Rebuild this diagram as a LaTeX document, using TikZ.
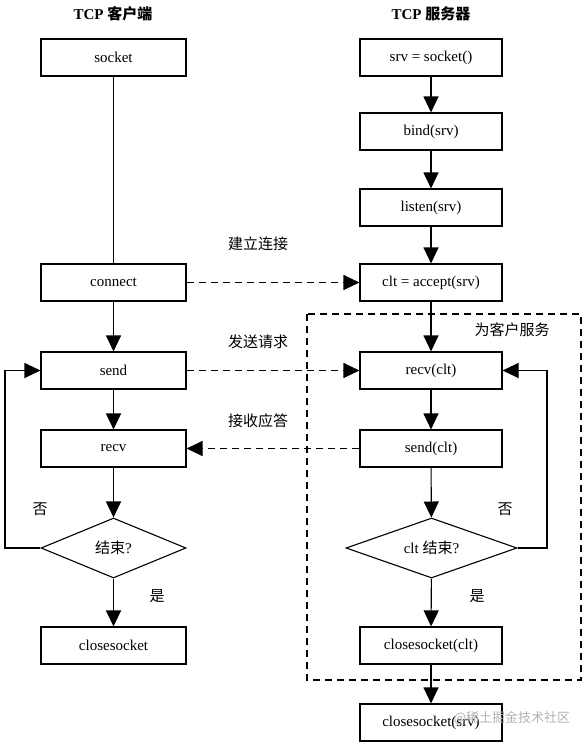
\documentclass[tikz,border=0pt]{standalone}
\usepackage{fontspec}
\setmainfont{Liberation Serif}
\newfontfamily\cjk{Noto Sans CJK SC}
\usetikzlibrary{arrows.meta,shapes.geometric}
\begin{document}
\begin{tikzpicture}[x=1pt,y=-1pt,
  font=\fontsize{15}{17}\selectfont,
  line width=1.1pt,
  boxL/.style={draw,minimum width=145pt,minimum height=37pt,inner sep=0pt},
  boxR/.style={draw,minimum width=142pt,minimum height=37pt,inner sep=0pt},
  dia/.style={draw,diamond,minimum height=60pt,inner sep=0pt,aspect=2.5},
  arr/.style={-{Triangle[length=16pt,width=15pt]}},
  dsh/.style={dash pattern=on 7pt off 5pt},
  lbl/.style={font=\fontsize{15}{17}\selectfont\cjk}
]
\useasboundingbox (0,0) rectangle (586,744);
% titles
\node (tL) at (113,14) {\bfseries TCP {\cjk\bfseries 客户端}};
\node (tR) at (431,14) {\bfseries TCP {\cjk\bfseries 服务器}};
% client
\node[boxL] (socket) at (113.5,57.5) {socket};
\node[boxL] (connect) at (113.5,282.5) {connect};
\node[boxL] (send) at (113.5,370.5) {send};
\node[boxL] (recv) at (113.5,448.5) {recv};
\node[dia,minimum width=145pt] (endL) at (113.5,548) {{\cjk 结束}?};
\node[boxL] (closeL) at (113.5,645.5) {closesocket};
% server
\node[boxR] (srv) at (431,57.5) {srv = socket()};
\node[boxR] (bind) at (431,131.5) {bind(srv)};
\node[boxR] (listen) at (431,207.5) {listen(srv)};
\node[boxR] (accept) at (431,282.5) {clt = accept(srv)};
\node[boxR] (recvc) at (431,370.5) {recv(clt)};
\node[boxR] (sendc) at (431,448.5) {send(clt)};
\node[dia,minimum width=171pt] (endR) at (431.5,548) {clt {\cjk 结束}?};
\node[boxR] (closeC) at (431,645.5) {closesocket(clt)};
\node[boxR] (closeS) at (431,722.5) {closesocket(srv)};
% dashed region
\draw[dsh] (307,314) rectangle (581,680);
\node[lbl] (svc) at (512,330) {为客户服务};
% client flow
\draw (socket) -- (connect);
\draw[arr] (connect) -- (send);
\draw[arr] (send) -- (recv);
\draw[arr] (recv) -- (endL);
\draw[arr] (endL) -- (closeL);
\coordinate (lpA) at (5,548);
\coordinate (lpB) at (5,370.5);
\draw[arr] (endL.west) -- (lpA) -- (lpB) -- (send.west);
% server flow
\draw[arr] (srv) -- (bind);
\draw[arr] (bind) -- (listen);
\draw[arr] (listen) -- (accept);
\draw[arr] (accept) -- (recvc);
\draw[arr] (recvc) -- (sendc);
\draw[arr] (sendc) -- (endR);
\draw[arr] (endR) -- (closeC);
\draw[arr] (closeC) -- (closeS);
\coordinate (rpA) at (547,548);
\coordinate (rpB) at (547,370.5);
\draw[arr] (endR.east) -- (rpA) -- (rpB) -- (recvc.east);
% messages
\draw[arr,dsh] (connect) -- (accept);
\draw[arr,dsh] (send) -- (recvc);
\draw[arr,dsh] (sendc) -- (recv);
\node[lbl] (m1) at (258,244) {建立连接};
\node[lbl] (m2) at (258,342) {发送请求};
\node[lbl] (m3) at (258,421) {接收应答};
% yes/no
\node[lbl] (noL) at (40,509) {否};
\node[lbl] (yesL) at (157,596) {是};
\node[lbl] (noR) at (505,509) {否};
\node[lbl] (yesR) at (477,596) {是};
% watermark
\node[font=\fontsize{13}{15}\selectfont\cjk,text=black!30] (wm) at (512,718) {@稀土掘金技术社区};
\end{tikzpicture}
\end{document}
